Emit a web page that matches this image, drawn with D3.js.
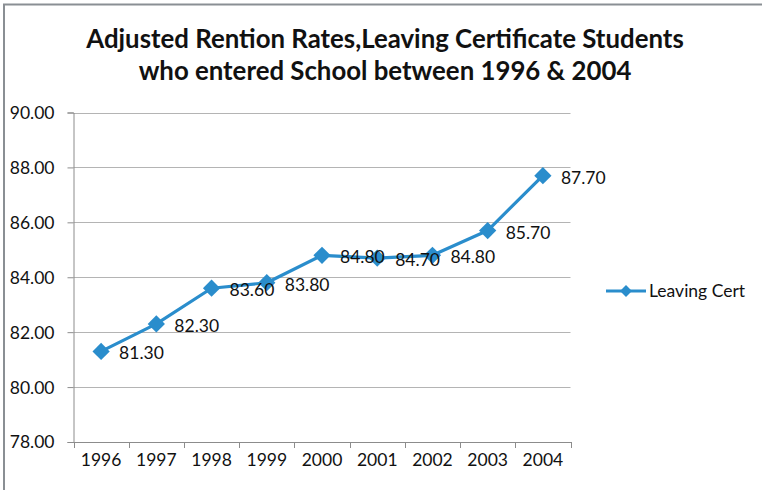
<!DOCTYPE html>
<html>
<head>
<meta charset="utf-8">
<script src="https://cdn.jsdelivr.net/npm/d3@7"></script>
<style>
  html, body { margin: 0; padding: 0; background: #fff; }
  svg { display: block; }
  text { font-family: Lato, "Open Sans", "Liberation Sans", sans-serif; fill: #111; }
</style>
</head>
<body>
<svg id="chart" width="762" height="490"></svg>
<script>
// Adjusted retention rates, Leaving Certificate
const years = ["1996", "1997", "1998", "1999", "2000", "2001", "2002", "2003", "2004"];
const leavingCert = [81.30, 82.30, 83.60, 83.80, 84.80, 84.70, 84.80, 85.70, 87.70];
const yTicks = [78, 80, 82, 84, 86, 88, 90];
const seriesName = "Leaving Cert";
const titleLines = ["Adjusted Rention Rates,Leaving Certificate Students", "who entered School between 1996 & 2004"];

const svg = d3.select("#chart");
const color = "#2A8DCC";
const fs = "17.5px";

// chart frame (left and top edges)
svg.append("path")
  .attr("d", "M4,490 V4.5 H762")
  .attr("fill", "none").attr("stroke", "#8a8f94").attr("stroke-width", 2);

const plot = { left: 73.5, right: 570.5, top: 112.5, bottom: 442 };

const x = d3.scaleBand().domain(years).range([plot.left, plot.right]);
const y = d3.scaleLinear().domain([78, 90]).range([plot.bottom, plot.top]);

// title
svg.append("g").selectAll("text").data(titleLines).join("text")
  .attr("x", 385).attr("y", (d, i) => 48 + i * 32)
  .attr("text-anchor", "middle")
  .style("font-size", "25.8px").style("font-weight", "bold")
  .text(d => d);

// gridlines
svg.append("g").selectAll("line").data(yTicks.slice(1)).join("line")
  .attr("x1", plot.left).attr("x2", plot.right)
  .attr("y1", d => Math.round(y(d)) + 0.5).attr("y2", d => Math.round(y(d)) + 0.5)
  .attr("stroke", "#b4b4b4").attr("stroke-width", 1);

// y axis
const yAxis = svg.append("g")
  .attr("transform", `translate(${plot.left},0)`)
  .call(d3.axisLeft(y).tickValues(yTicks).tickFormat(d3.format(".2f")).tickSizeOuter(0).tickSize(6).tickPadding(13));
yAxis.select(".domain").attr("stroke", "#8c8c8c");
yAxis.selectAll(".tick line").attr("stroke", "#8c8c8c");
yAxis.selectAll(".tick text").style("font-size", fs).attr("fill", "#111").attr("dy", "0.34em");

// x axis
const xAxis = svg.append("g")
  .attr("transform", `translate(0,${plot.bottom})`)
  .call(d3.axisBottom(x).tickSize(0).tickPadding(12).tickSizeOuter(0));
xAxis.select(".domain").attr("stroke", "#8c8c8c");
xAxis.selectAll(".tick text").style("font-size", fs).attr("fill", "#111");
// category boundary ticks
const bounds = years.map(d => x(d)).concat([x(years[years.length - 1]) + x.bandwidth()]);
svg.append("g").selectAll("line").data(bounds).join("line")
  .attr("x1", d => Math.round(d) + 0.5).attr("x2", d => Math.round(d) + 0.5)
  .attr("y1", plot.bottom).attr("y2", plot.bottom + 6)
  .attr("stroke", "#8c8c8c");

const cx = d => x(d) + x.bandwidth() / 2;
const data = years.map((d, i) => ({ year: d, value: leavingCert[i] }));

// series line
svg.append("path").datum(data)
  .attr("fill", "none").attr("stroke", color).attr("stroke-width", 3.2)
  .attr("stroke-linejoin", "round")
  .attr("d", d3.line().x(d => cx(d.year)).y(d => y(d.value)));

// diamond markers
const diamond = d3.symbol().type(d3.symbolDiamond2).size(190);
svg.append("g").selectAll("path").data(data).join("path")
  .attr("d", diamond)
  .attr("transform", d => `translate(${cx(d.year)},${y(d.value)})`)
  .attr("fill", color);

// data labels
svg.append("g").selectAll("text").data(data).join("text")
  .attr("x", d => cx(d.year) + 18)
  .attr("y", d => y(d.value) + 8)
  .style("font-size", fs)
  .text(d => d3.format(".2f")(d.value));

// legend
const lg = svg.append("g").attr("transform", "translate(606,291)");
lg.append("line").attr("x1", 0).attr("x2", 40).attr("y1", 0).attr("y2", 0)
  .attr("stroke", color).attr("stroke-width", 3.2);
lg.append("path").attr("d", d3.symbol().type(d3.symbolDiamond2).size(90))
  .attr("transform", "translate(20,0)").attr("fill", color);
lg.append("text").attr("x", 43).attr("y", 6).style("font-size", fs).text(seriesName);
</script>
</body>
</html>
